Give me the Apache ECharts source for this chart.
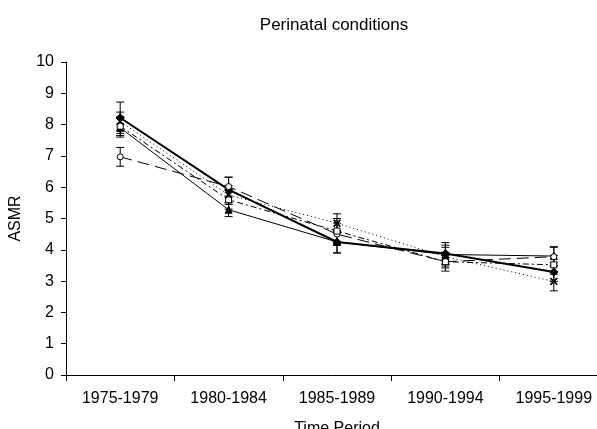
<!DOCTYPE html>
<html>
<head>
<meta charset="utf-8">
<script src="https://cdn.jsdelivr.net/npm/echarts@6/dist/echarts.min.js"></script>
<style>
    html, body { margin: 0; padding: 0; background: #fff; }
    #chart_div { width: 597px; height: 429px; }
</style>
</head>
<body>
<div id="chart_div"></div>
<script>
    // categories
    var periods = ['1975-1979', '1980-1984', '1985-1989', '1990-1994', '1995-1999'];
    var yTicks = [0, 10, 1];

    // series values (ASMR)
    var seriesA = [8.22, 5.92, 4.25, 3.88, 3.29];   // thick solid, filled diamond
    var seriesB = [7.90, 5.28, 4.25, 3.85, 3.80];   // thin solid, filled triangle
    var seriesC = [6.97, 6.02, 4.50, 3.62, 3.78];   // long dash, open circle
    var seriesD = [7.95, 5.60, 4.60, 3.62, 3.52];   // dash-dot, open square
    var seriesE = [8.10, 5.75, 4.85, 3.78, 2.99];   // dotted, cross

    // half widths of the error bars
    var errA = [0.50, 0.40, 0.35, 0.35, 0.30];
    var errB = [0.30, 0.22, 0.35, 0.30, 0.30];
    var errC = [0.30, 0.30, 0.35, 0.30, 0.30];
    var errD = [0.30, 0.30, 0.40, 0.20, 0.30];
    var errE = [0.30, 0.30, 0.30, 0.30, 0.30];

    var crossPath = 'path://M0,1L1,0L5,4L9,0L10,1L6,5L10,9L9,10L5,6L1,10L0,9L4,5Z';
    var font = 'Liberation Sans';

    function errData(vals, errs) {
        return vals.map(function (v, i) { return [i, v - errs[i], v + errs[i]]; });
    }

    function errSeries(vals, errs) {
        return {
            type: 'custom',
            silent: true,
            z: 1,
            data: errData(vals, errs),
            encode: { x: 0, y: [1, 2] },
            renderItem: function (params, api) {
                var lo = api.coord([api.value(0), api.value(1)]);
                var hi = api.coord([api.value(0), api.value(2)]);
                var w = 4;
                var st = { stroke: '#000', lineWidth: 1 };
                return {
                    type: 'group',
                    children: [
                        { type: 'line', shape: { x1: lo[0], y1: lo[1], x2: hi[0], y2: hi[1] }, style: st },
                        { type: 'line', shape: { x1: lo[0] - w, y1: lo[1], x2: lo[0] + w, y2: lo[1] }, style: st },
                        { type: 'line', shape: { x1: hi[0] - w, y1: hi[1], x2: hi[0] + w, y2: hi[1] }, style: st }
                    ]
                };
            }
        };
    }

    function lineSeries(name, vals, width, dash, symbol, size, fill) {
        return {
            name: name,
            type: 'line',
            data: vals,
            symbol: symbol,
            symbolSize: size,
            z: 3,
            lineStyle: { color: '#000', width: width, type: dash },
            itemStyle: { color: fill, borderColor: '#000', borderWidth: 1 }
        };
    }

    var myChart = echarts.init(document.getElementById('chart_div'));
    myChart.setOption({
        animation: false,
        backgroundColor: '#fff',
        title: {
            text: 'Perinatal conditions',
            left: 329,
            top: 12,
            textAlign: 'center',
            textStyle: { color: '#000', fontSize: 17, fontWeight: 'normal', fontFamily: font }
        },
        grid: { left: 66, top: 62, width: 542, height: 313, containLabel: false, outerBoundsMode: 'none' },
        xAxis: {
            type: 'category',
            data: periods,
            boundaryGap: true,
            name: 'Time Period',
            nameLocation: 'middle',
            nameGap: 46,
            nameTextStyle: { color: '#000', fontSize: 16, fontFamily: font },
            axisLine: { lineStyle: { color: '#000', width: 1 } },
            axisTick: { show: true, length: 6, lineStyle: { color: '#000' } },
            axisLabel: { color: '#000', fontSize: 16, margin: 16, fontFamily: font },
            splitLine: { show: false }
        },
        yAxis: {
            type: 'value',
            min: yTicks[0],
            max: yTicks[1],
            interval: yTicks[2],
            name: 'ASMR',
            nameLocation: 'middle',
            nameGap: 42,
            nameTextStyle: { color: '#000', fontSize: 16, fontFamily: font },
            axisLine: { show: true, lineStyle: { color: '#000', width: 1 } },
            axisTick: { show: true, length: 5, lineStyle: { color: '#000' } },
            axisLabel: { color: '#000', fontSize: 16, margin: 12, fontFamily: font },
            splitLine: { show: false }
        },
        series: [
            errSeries(seriesA, errA),
            errSeries(seriesB, errB),
            errSeries(seriesC, errC),
            errSeries(seriesD, errD),
            errSeries(seriesE, errE),
            lineSeries('A', seriesA, 2, 'solid', 'diamond', 8, '#000'),
            lineSeries('B', seriesB, 1, 'solid', 'triangle', 7, '#000'),
            lineSeries('C', seriesC, 1, [12, 6], 'circle', 6, '#fff'),
            lineSeries('D', seriesD, 1, [6, 3, 2, 3], 'rect', 6, '#fff'),
            lineSeries('E', seriesE, 1, [1, 3], crossPath, 7, '#000')
        ]
    });
</script>
</body>
</html>
